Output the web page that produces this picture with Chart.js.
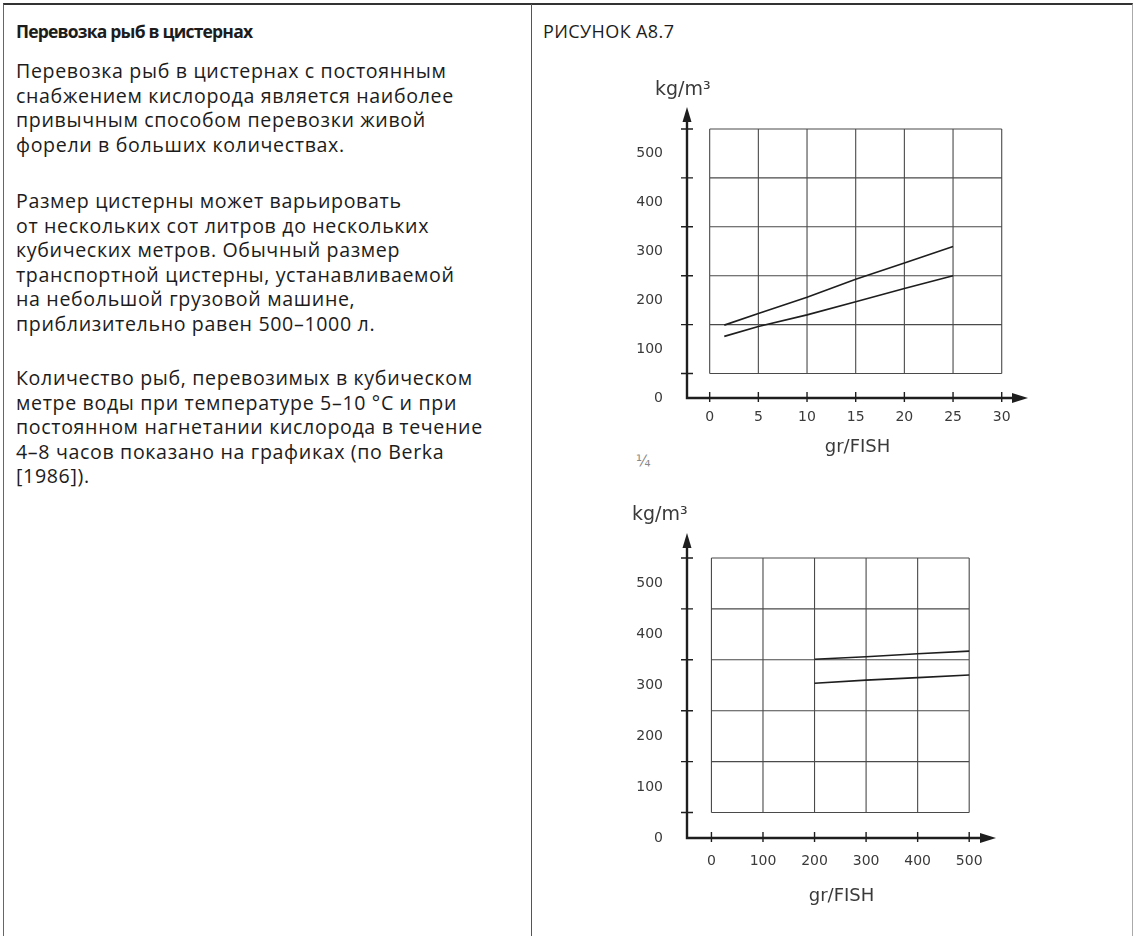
<!DOCTYPE html>
<html lang="ru">
<head>
<meta charset="utf-8">
<title>Перевозка рыб в цистернах</title>
<script src="https://cdn.jsdelivr.net/npm/chart.js@4.4.1/dist/chart.umd.min.js"></script>
<style>
    html, body { margin: 0; padding: 0; background: #fff; }
    body { width: 1134px; height: 936px; overflow: hidden; position: relative; font-family: 'Open Sans', sans-serif; color: #1c1c1c; }
    .frame { position: absolute; left: 3px; top: 3px; width: 1130px; height: 980px; box-sizing: border-box;
             border: 1px solid #666; border-top: 2px solid #333; border-right-color: #aaa; }
    .divider { position: absolute; left: 531px; top: 4px; width: 1px; height: 960px; background: #555; }
    .block { position: absolute; left: 16px; width: 512px; font-size: 19.6px; letter-spacing: 0.65px; line-height: 24.6px; white-space: nowrap; }
    .block.title { font-weight: 700; font-size: 17.5px; letter-spacing: -0.8px; }
    .fig-label { position: absolute; left: 543px; top: 19px; font-size: 18px; letter-spacing: 0.4px; line-height: 24.6px; }
    .scribble { position: absolute; left: 636px; top: 452px; font-size: 15px; color: #888; font-family: 'DejaVu Sans', sans-serif; }
    canvas { position: absolute; }
    #chartSmall { left: 600px; top: 70px; }
    #chartLarge { left: 600px; top: 496px; }
</style>
</head>
<body>
<div class="frame"></div>
<div class="divider"></div>

<div class="block title" style="top:19px">Перевозка рыб в цистернах</div>
<div class="block" style="top:59px">Перевозка рыб в цистернах с постоянным<br>снабжением кислорода является наиболее<br>привычным способом перевозки живой<br>форели в больших количествах.</div>
<div class="block" style="top:189px">Размер цистерны может варьировать<br>от нескольких сот литров до нескольких<br>кубических метров. Обычный размер<br>транспортной цистерны, устанавливаемой<br>на небольшой грузовой машине,<br>приблизительно равен 500–1000 л.</div>
<div class="block" style="top:366px">Количество рыб, перевозимых в кубическом<br>метре воды при температуре 5–10 °C и при<br>постоянном нагнетании кислорода в течение<br>4–8 часов показано на графиках (по Berka<br>[1986]).</div>

<div class="fig-label">РИСУНОК A8.7</div>
<div class="scribble">¼</div>

<canvas id="chartSmall" width="440" height="400"></canvas>
<canvas id="chartLarge" width="408" height="420"></canvas>

<script>
// top chart: small fish, gr/fish 0..30
const smallWeight = [1.5, 5, 10, 15, 20, 25];
const smallHigh = [149, 173, 206, 243, 276, 310];
const smallLow = [126, 146, 170, 197, 224, 250];
const smallTicks = [0, 5, 10, 15, 20, 25, 30];

// bottom chart: big fish, gr/fish 0..500
const largeWeight = [200, 300, 400, 500];
const largeHigh = [351, 356, 362, 367];
const largeLow = [304, 310, 315, 320];
const largeTicks = [0, 100, 200, 300, 400, 500];

// shared y axis (labels and the hand-drawn grid rows, which sit half a step off)
const densityTicks = [0, 100, 200, 300, 400, 500];
const gridRows = [50, 150, 250, 350, 450, 550];

const unitY = 'kg/m³';
const unitX = 'gr/FISH';

const INK = '#1e1e1e';
const PENCIL = '#3a3a3a';
const HAND_FONT = 'DejaVu Sans';

// draws the sketch-style grid box, arrowed axes, tick marks and the unit label
const handGrid = {
    id: 'handGrid',
    beforeDatasetsDraw(chart, args, opts) {
        const { ctx, scales: { x, y } } = chart;
        const cols = opts.cols;
        const x0 = x.getPixelForValue(cols[0]);
        const x1 = x.getPixelForValue(cols[cols.length - 1]);
        const y0 = y.getPixelForValue(gridRows[0]);
        const y1 = y.getPixelForValue(gridRows[gridRows.length - 1]);
        ctx.save();

        ctx.strokeStyle = '#4a4a4a';
        ctx.lineWidth = 1.1;
        ctx.beginPath();
        cols.forEach(v => {
            const px = x.getPixelForValue(v);
            ctx.moveTo(px, y0); ctx.lineTo(px, y1);
        });
        gridRows.forEach(v => {
            const py = y.getPixelForValue(v);
            ctx.moveTo(x0, py); ctx.lineTo(x1, py);
        });
        ctx.stroke();

        const ax = x.getPixelForValue(x.min);
        const ay = y.getPixelForValue(0);
        const right = x.getPixelForValue(x.max);
        const top = y.getPixelForValue(y.max);

        ctx.strokeStyle = INK;
        ctx.lineWidth = 2.4;
        ctx.beginPath();
        ctx.moveTo(ax, top + 10);
        ctx.lineTo(ax, ay);
        ctx.lineTo(right - 12, ay);
        ctx.stroke();

        ctx.fillStyle = INK;
        ctx.beginPath();
        ctx.moveTo(ax, top); ctx.lineTo(ax - 4.5, top + 15); ctx.lineTo(ax + 4.5, top + 15);
        ctx.closePath(); ctx.fill();
        ctx.beginPath();
        ctx.moveTo(right, ay); ctx.lineTo(right - 16, ay - 5); ctx.lineTo(right - 16, ay + 5);
        ctx.closePath(); ctx.fill();

        ctx.lineWidth = 1.4;
        ctx.beginPath();
        gridRows.forEach(v => {
            const py = y.getPixelForValue(v);
            ctx.moveTo(ax - 6, py); ctx.lineTo(ax + 6, py);
        });
        opts.axisTicks.forEach(v => {
            const px = x.getPixelForValue(v);
            ctx.moveTo(px, ay - 6); ctx.lineTo(px, ay + 4);
        });
        ctx.stroke();

        ctx.fillStyle = PENCIL;
        ctx.font = `19px '${HAND_FONT}'`;
        ctx.textBaseline = 'middle';
        ctx.textAlign = 'left';
        ctx.fillText(unitY, ax + opts.unitDx, top - opts.unitDy);
        ctx.restore();
    }
};

function toPoints(xs, ys) {
    return xs.map((v, i) => ({ x: v, y: ys[i] }));
}

function lineSet(xs, ys) {
    return {
        data: toPoints(xs, ys),
        borderColor: INK,
        borderWidth: 1.6,
        pointRadius: 0,
        tension: 0,
        fill: false
    };
}

function buildChart(id, cfg) {
    const ctx = document.getElementById(id).getContext('2d');
    return new Chart(ctx, {
        type: 'line',
        data: { datasets: [lineSet(cfg.xs, cfg.high), lineSet(cfg.xs, cfg.low)] },
        options: {
            responsive: false,
            animation: false,
            layout: { padding: { top: 37, left: 0, right: 12, bottom: cfg.padBottom } },
            plugins: {
                legend: { display: false },
                tooltip: { enabled: false },
                handGrid: { cols: cfg.ticks, axisTicks: cfg.ticks, unitDx: cfg.unitDx, unitDy: cfg.unitDy }
            },
            scales: {
                x: {
                    type: 'linear',
                    min: cfg.xMin,
                    max: cfg.xMax,
                    afterBuildTicks: s => { s.ticks = cfg.ticks.map(v => ({ value: v })); },
                    afterFit: s => { s.height = cfg.xAxisHeight; },
                    grid: { display: false, drawTicks: false },
                    border: { display: false },
                    ticks: { padding: cfg.xPad, color: PENCIL, font: { family: HAND_FONT, size: 14 }, maxRotation: 0 },
                    title: { display: true, text: unitX, color: PENCIL, font: { family: HAND_FONT, size: 18 }, padding: { top: 0, bottom: 0 } }
                },
                y: {
                    type: 'linear',
                    min: 0,
                    max: cfg.yMax,
                    afterBuildTicks: s => { s.ticks = densityTicks.map(v => ({ value: v })); },
                    afterFit: s => { s.width = 87; },
                    grid: { display: false, drawTicks: false },
                    border: { display: false },
                    ticks: { padding: 24, color: PENCIL, font: { family: HAND_FONT, size: 14 } }
                }
            }
        },
        plugins: [handGrid]
    });
}

buildChart('chartSmall', {
    xs: smallWeight, high: smallHigh, low: smallLow, ticks: smallTicks,
    xMin: -2.33, xMax: 32.7, yMax: 595,
    xAxisHeight: 60, xPad: 11, padBottom: 12, unitDx: -32, unitDy: 17
});

buildChart('chartLarge', {
    xs: largeWeight, high: largeHigh, low: largeLow, ticks: largeTicks,
    xMin: -47.4, xMax: 552, yMax: 599,
    xAxisHeight: 69, xPad: 15, padBottom: 9, unitDx: -55, unitDy: 18
});
</script>
</body>
</html>
